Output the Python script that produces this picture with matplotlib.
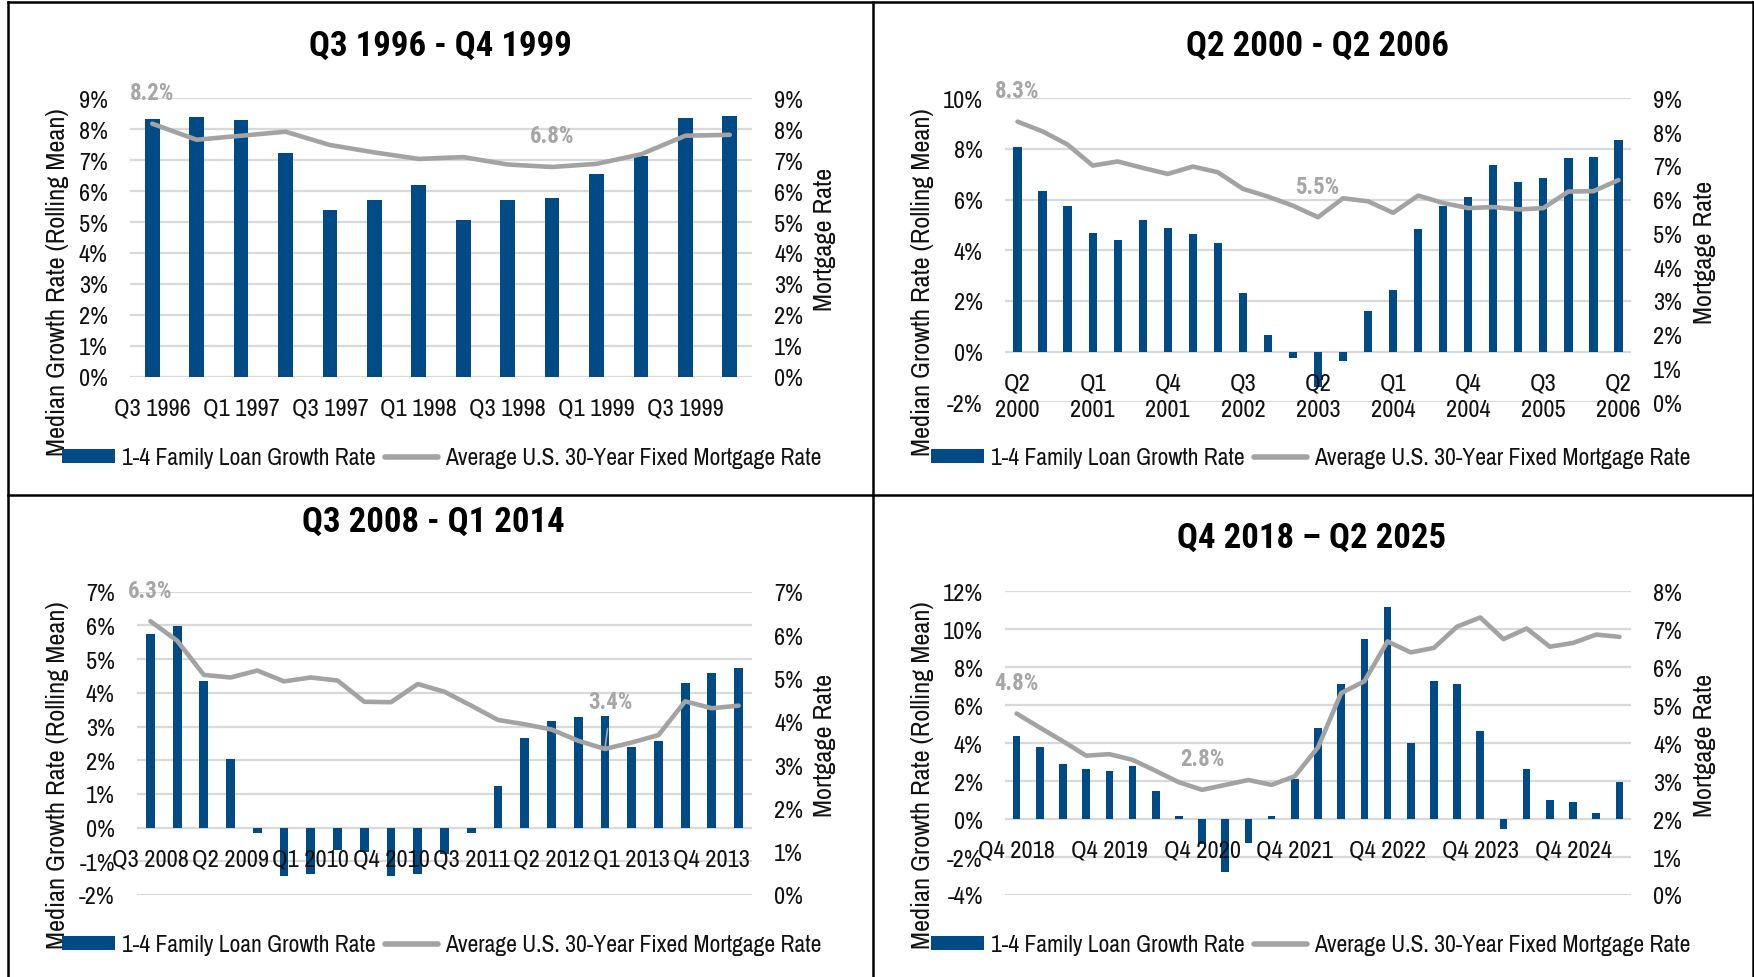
import matplotlib
matplotlib.use('Agg')
import matplotlib.pyplot as plt
from matplotlib import font_manager as fm
from matplotlib.lines import Line2D
from matplotlib.patches import Patch
from matplotlib.ticker import FuncFormatter, MultipleLocator

W, H, DPI = 1754, 978, 100


def font_ok(name):
    try:
        fm.findfont(fm.FontProperties(family=name), fallback_to_default=False)
        return True
    except Exception:
        return False


if font_ok('Archivo Narrow'):
    REG = ['Archivo Narrow', 'DejaVu Sans']
    S = 1.0
elif font_ok('Roboto Condensed'):
    REG = ['Roboto Condensed', 'DejaVu Sans']
    S = 0.93
else:
    REG = ['Liberation Sans', 'DejaVu Sans']
    S = 0.84
BOLD = ['Roboto Condensed', 'Liberation Sans', 'DejaVu Sans']
plt.rcParams['font.family'] = REG

# ---------------- data ----------------
p1_title = "Q3 1996 - Q4 1999"
p1_cats = ["Q3 1996", "Q4 1996", "Q1 1997", "Q2 1997", "Q3 1997", "Q4 1997", "Q1 1998",
           "Q2 1998", "Q3 1998", "Q4 1998", "Q1 1999", "Q2 1999", "Q3 1999", "Q4 1999"]
p1_growth = [8.33, 8.39, 8.31, 7.22, 5.39, 5.70, 6.21, 5.08, 5.71, 5.77, 6.55, 7.12, 8.36, 8.42]
p1_rate = [8.18, 7.66, 7.79, 7.92, 7.49, 7.25, 7.04, 7.10, 6.86, 6.78, 6.88, 7.19, 7.79, 7.82]
p1_ticks = ["Q3 1996", "Q1 1997", "Q3 1997", "Q1 1998", "Q3 1998", "Q1 1999", "Q3 1999"]

p2_title = "Q2 2000 - Q2 2006"
p2_cats = ["Q2 2000", "Q3 2000", "Q4 2000", "Q1 2001", "Q2 2001", "Q3 2001", "Q4 2001",
           "Q1 2002", "Q2 2002", "Q3 2002", "Q4 2002", "Q1 2003", "Q2 2003", "Q3 2003",
           "Q4 2003", "Q1 2004", "Q2 2004", "Q3 2004", "Q4 2004", "Q1 2005", "Q2 2005",
           "Q3 2005", "Q4 2005", "Q1 2006", "Q2 2006"]
p2_growth = [8.09, 6.33, 5.74, 4.67, 4.41, 5.18, 4.89, 4.63, 4.28, 2.32, 0.64, -0.25, -1.41,
             -0.36, 1.61, 2.43, 4.84, 5.76, 6.11, 7.38, 6.71, 6.87, 7.64, 7.67, 8.37]
p2_rate = [8.31, 8.02, 7.63, 7.01, 7.13, 6.94, 6.76, 6.98, 6.81, 6.32, 6.09, 5.82, 5.48,
           6.04, 5.95, 5.61, 6.12, 5.90, 5.75, 5.78, 5.71, 5.75, 6.24, 6.25, 6.58]
p2_ticks = ["Q2\n2000", "Q1\n2001", "Q4\n2001", "Q3\n2002", "Q2\n2003", "Q1\n2004",
            "Q4\n2004", "Q3\n2005", "Q2\n2006"]

p3_title = "Q3 2008 - Q1 2014"
p3_cats = ["Q3 2008", "Q4 2008", "Q1 2009", "Q2 2009", "Q3 2009", "Q4 2009", "Q1 2010",
           "Q2 2010", "Q3 2010", "Q4 2010", "Q1 2011", "Q2 2011", "Q3 2011", "Q4 2011",
           "Q1 2012", "Q2 2012", "Q3 2012", "Q4 2012", "Q1 2013", "Q2 2013", "Q3 2013",
           "Q4 2013", "Q1 2014"]
p3_growth = [5.73, 5.98, 4.35, 2.05, -0.16, -1.44, -1.37, -0.67, -0.72, -1.45, -1.39, -0.77,
             -0.16, 1.24, 2.67, 3.16, 3.28, 3.30, 2.39, 2.56, 4.29, 4.58, 4.75]
p3_rate = [6.32, 5.87, 5.08, 5.02, 5.18, 4.93, 5.02, 4.95, 4.46, 4.45, 4.87, 4.69, 4.37,
           4.04, 3.94, 3.82, 3.56, 3.37, 3.52, 3.69, 4.47, 4.31, 4.37]
p3_ticks = ["Q3 2008", "Q2 2009", "Q1 2010", "Q4 2010", "Q3 2011", "Q2 2012", "Q1 2013", "Q4 2013"]

p4_title = "Q4 2018 \u2013 Q2 2025"
p4_cats = ["Q4 2018", "Q1 2019", "Q2 2019", "Q3 2019", "Q4 2019", "Q1 2020", "Q2 2020",
           "Q3 2020", "Q4 2020", "Q1 2021", "Q2 2021", "Q3 2021", "Q4 2021", "Q1 2022",
           "Q2 2022", "Q3 2022", "Q4 2022", "Q1 2023", "Q2 2023", "Q3 2023", "Q4 2023",
           "Q1 2024", "Q2 2024", "Q3 2024", "Q4 2024", "Q1 2025", "Q2 2025"]
p4_growth = [4.39, 3.81, 2.92, 2.64, 2.53, 2.81, 1.48, 0.15, -1.30, -2.78, -1.28, 0.18, 2.10,
             4.78, 7.12, 9.47, 11.16, 4.01, 7.26, 7.14, 4.64, -0.54, 2.64, 0.98, 0.88, 0.32, 1.93]
p4_rate = [4.78, 4.41, 4.05, 3.67, 3.71, 3.56, 3.27, 2.97, 2.77, 2.90, 3.03, 2.90, 3.13,
           3.89, 5.32, 5.63, 6.68, 6.39, 6.51, 7.07, 7.31, 6.74, 7.02, 6.54, 6.64, 6.86, 6.80]
p4_ticks = ["Q4 2018", "Q4 2019", "Q4 2020", "Q4 2021", "Q4 2022", "Q4 2023", "Q4 2024"]

legend_bar = "1-4 Family Loan Growth Rate"
legend_line = "Average U.S. 30-Year Fixed Mortgage Rate"
ylabel_left = "Median Growth Rate (Rolling Mean)"
ylabel_right = "Mortgage Rate"

# ---------------- style ----------------
BAR = '#004A86'
LINE = '#A3A3A3'
GRID = '#D9D9D9'
LBL = '#A6A6A6'
TXT = '#111111'
FS = 17.5 * S
LEGFS = 17 * S
YLFS = 19 * S
LFS = 16.5
TFS = 25

fig = plt.figure(figsize=(W / DPI, H / DPI), dpi=DPI)


def fx(px):
    return px / W


def fy(py):
    return 1 - py / H


def pct(v, pos):
    return f"{v:.0f}%"


panels = [
    dict(title=p1_title, cats=p1_cats, g=p1_growth, r=p1_rate, ticks=p1_ticks, step=2,
         box=(130, 99.3, 752, 377.7), ylim=(0, 9), ystep=1, rlim=(0, 9),
         title_xy=(440, 46), ylab_x=58, ylab_y=282, rlab_x=825, rlab_y=239,
         legend_y=459, legend_x=62, labels=[(0, None), (9, None)]),
    dict(title=p2_title, cats=p2_cats, g=p2_growth, r=p2_rate, ticks=p2_ticks, step=3,
         box=(1005, 99.3, 1631, 403.3), ylim=(-2, 10), ystep=2, rlim=(0, 9),
         title_xy=(1317, 46), ylab_x=923, ylab_y=282, rlab_x=1705, rlab_y=252,
         legend_y=459, legend_x=931, labels=[(0, None), (12, None)]),
    dict(title=p3_title, cats=p3_cats, g=p3_growth, r=p3_rate, ticks=p3_ticks, step=3,
         box=(137, 592.7, 752, 896), ylim=(-2, 7), ystep=1, rlim=(0, 7),
         title_xy=(433, 522), ylab_x=58, ylab_y=775, rlab_x=825, rlab_y=745,
         legend_y=946, legend_x=62, labels=[(0, None), (17, 'lead')]),
    dict(title=p4_title, cats=p4_cats, g=p4_growth, r=p4_rate, ticks=p4_ticks, step=4,
         box=(1005, 592.3, 1631, 896), ylim=(-4, 12), ystep=2, rlim=(0, 8),
         title_xy=(1312, 538), ylab_x=923, ylab_y=775, rlab_x=1705, rlab_y=745,
         legend_y=946, legend_x=931, labels=[(0, None), (8, None)]),
]

for p in panels:
    l, t, r, b = p['box']
    ax = fig.add_axes([fx(l), fy(b), fx(r - l), (b - t) / H])
    n = len(p['cats'])
    xs = list(range(n))
    ax.bar(xs, p['g'], width=0.33, color=BAR, zorder=3)
    ax.set_xlim(-0.5, n - 0.5)
    ax.set_ylim(*p['ylim'])
    ax.yaxis.set_major_locator(MultipleLocator(p['ystep']))
    ax.yaxis.set_major_formatter(FuncFormatter(pct))
    ax.grid(axis='y', color=GRID, lw=1.6, zorder=0)
    ax.set_axisbelow(True)
    for s in ax.spines.values():
        s.set_visible(False)
    ax.tick_params(axis='x', length=0, labelbottom=False)
    ax.tick_params(axis='y', length=0, pad=16, labelsize=FS, labelcolor=TXT)

    ax2 = ax.twinx()
    ax2.plot(xs, p['r'], color=LINE, lw=3.3, solid_capstyle='round',
             solid_joinstyle='round', zorder=4)
    ax2.set_ylim(*p['rlim'])
    ax2.yaxis.set_major_locator(MultipleLocator(1))
    ax2.yaxis.set_major_formatter(FuncFormatter(pct))
    ax2.tick_params(axis='y', length=0, pad=16, labelsize=FS, labelcolor=TXT)
    for s in ax2.spines.values():
        s.set_visible(False)

    # category labels drawn by the overlay axes so that they sit above the bars,
    # next to the zero line of the growth axis
    y0, y1 = p['ylim']
    ax2.xaxis.set_visible(True)
    ax2.spines['bottom'].set_position(('axes', (0 - y0) / (y1 - y0)))
    ax2.set_xticks(xs[::p['step']])
    ax2.set_xticklabels(p['ticks'])
    ax2.tick_params(axis='x', length=0, pad=15, labelsize=FS, labelcolor=TXT,
                    labelbottom=True, bottom=True)
    if '\n' in p['ticks'][0]:
        for tl in ax2.get_xticklabels():
            tl.set_linespacing(1.35)

    for idx, kind in p['labels']:
        v = p['r'][idx]
        if kind == 'lead':
            ax2.annotate(f"{v:.1f}%", xy=(idx, v), xytext=(6, 47), textcoords='offset pixels',
                         ha='center', va='center', fontsize=LFS, fontweight='bold', color=LBL,
                         family=BOLD,
                         arrowprops=dict(arrowstyle='-', color=LBL, lw=1.2,
                                         shrinkA=9, shrinkB=0), zorder=6)
        else:
            ax2.annotate(f"{v:.1f}%", xy=(idx, v), xytext=(0, 31), textcoords='offset pixels',
                         ha='center', va='center', fontsize=LFS, fontweight='bold', color=LBL,
                         family=BOLD, zorder=6)

    fig.text(fx(p['title_xy'][0]), fy(p['title_xy'][1]), p['title'], ha='center', va='center',
             fontsize=TFS, fontweight='bold', color='black', family=BOLD)
    fig.text(fx(p['ylab_x']), fy(p['ylab_y']), ylabel_left, rotation=90, ha='center',
             va='center', fontsize=YLFS, color=TXT)
    fig.text(fx(p['rlab_x']), fy(p['rlab_y']), ylabel_right, rotation=90, ha='center',
             va='center', fontsize=YLFS, color=TXT)

    handles = [Patch(facecolor=BAR, edgecolor='none'),
               Line2D([0], [0], color=LINE, lw=4, solid_capstyle='round')]
    fig.legend(handles, [legend_bar, legend_line], ncol=2, frameon=False,
               loc='center left', bbox_to_anchor=(fx(p['legend_x']), fy(p['legend_y'])),
               fontsize=LEGFS, handlelength=2.25, handleheight=0.55, handletextpad=0.3,
               columnspacing=0.38, borderaxespad=0, borderpad=0, labelcolor=TXT)

# panel borders
kw = dict(color='black', lw=1.8, transform=fig.transFigure)
fig.add_artist(Line2D([fx(8), fx(1753)], [fy(3), fy(3)], **kw))
fig.add_artist(Line2D([fx(8), fx(1753)], [fy(496), fy(496)], **kw))
fig.add_artist(Line2D([fx(8), fx(8)], [fy(3), 0], **kw))
fig.add_artist(Line2D([fx(873), fx(873)], [fy(3), 0], **kw))
fig.add_artist(Line2D([fx(1752.5), fx(1752.5)], [fy(3), 0], **kw))

fig.savefig('out.png', dpi=DPI, facecolor='white')
